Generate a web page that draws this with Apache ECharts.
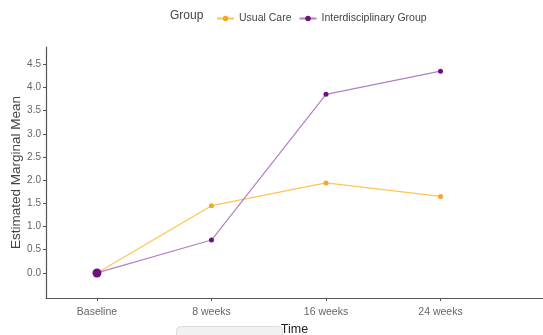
<!DOCTYPE html>
<html>
<head>
<meta charset="utf-8">
<script src="https://cdn.jsdelivr.net/npm/echarts@6/dist/echarts.min.js"></script>
<style>
  html, body { margin: 0; padding: 0; background: #fff; }
  #chart { width: 543px; height: 335px; }
</style>
</head>
<body>
<div id="chart"></div>
<script>
// data
const categories = ['Baseline', '8 weeks', '16 weeks', '24 weeks'];
const usualCare = [0, 1.45, 1.94, 1.65];
const interdisciplinary = [0, 0.71, 3.85, 4.35];
const yTicks = [0, 0.5, 1, 1.5, 2, 2.5, 3, 3.5, 4, 4.5];

const catPos = categories.map((c, i) => i + 1);
const pairs = vals => vals.map((v, i) => [catPos[i], v]);

const chart = echarts.init(document.getElementById('chart'), null, { renderer: 'canvas' });

const axisText = { color: '#666', fontSize: 10, fontFamily: 'Liberation Sans' };

const option = {
  animation: false,
  backgroundColor: '#fff',
  textStyle: { fontFamily: 'Liberation Sans' },
  legend: {
    top: 8,
    left: 211,
    itemGap: 7,
    itemWidth: 17,
    itemHeight: 7,
    textStyle: { color: '#444', fontSize: 10.5 },
    data: ['Usual Care', 'Interdisciplinary Group']
  },
  graphic: [
    {
      type: 'text', left: 170, top: 10,
      style: { text: 'Group', fill: '#444', fontSize: 12, fontFamily: 'Liberation Sans' }
    },
    {
      type: 'rect', left: 176, top: 326,
      shape: { width: 106, height: 14, r: 4 },
      style: { fill: '#f1f1f1', stroke: '#dcdcdc' }
    }
  ],
  grid: { left: 46, right: 0, top: 47, bottom: 37, outerBoundsMode: 'none' },
  xAxis: {
    type: 'value',
    min: 0.555,
    max: 4.895,
    name: 'Time',
    nameLocation: 'middle',
    nameGap: 25,
    nameMoveOverlap: false,
    nameTextStyle: { color: '#222', fontSize: 12.5 },
    splitLine: { show: false },
    axisLine: { show: true, onZero: false, lineStyle: { color: '#555', width: 1.2 } },
    axisTick: { show: true, length: 3, customValues: catPos, lineStyle: { color: '#555' } },
    axisLabel: Object.assign({}, axisText, {
      customValues: catPos,
      margin: 9,
      fontSize: 10.5,
      formatter: v => categories[Math.round(v) - 1] || ''
    })
  },
  yAxis: {
    type: 'value',
    min: -0.54,
    max: 4.87,
    name: 'Estimated Marginal Mean',
    nameLocation: 'middle',
    nameGap: 23,
    nameMoveOverlap: false,
    nameTextStyle: { color: '#444', fontSize: 13.5 },
    splitLine: { show: false },
    axisLine: { show: true, onZero: false, lineStyle: { color: '#555', width: 1.2 } },
    axisTick: { show: true, length: 3, customValues: yTicks, lineStyle: { color: '#555' } },
    axisLabel: Object.assign({}, axisText, {
      customValues: yTicks,
      margin: 5,
      formatter: v => v.toFixed(1)
    })
  },
  series: [
    {
      name: 'Usual Care',
      type: 'line',
      data: pairs(usualCare),
      symbol: 'circle',
      symbolSize: 5,
      lineStyle: { color: '#FFC552', width: 1.2 },
      itemStyle: { color: '#F2A62A' },
      z: 2
    },
    {
      name: 'Interdisciplinary Group',
      type: 'line',
      data: pairs(interdisciplinary),
      symbol: 'circle',
      symbolSize: (v, p) => (p.dataIndex === 0 ? 9 : 5),
      lineStyle: { color: '#B27FC9', width: 1.2 },
      itemStyle: { color: '#6E1180' },
      z: 3
    }
  ]
};

chart.setOption(option);
</script>
</body>
</html>
